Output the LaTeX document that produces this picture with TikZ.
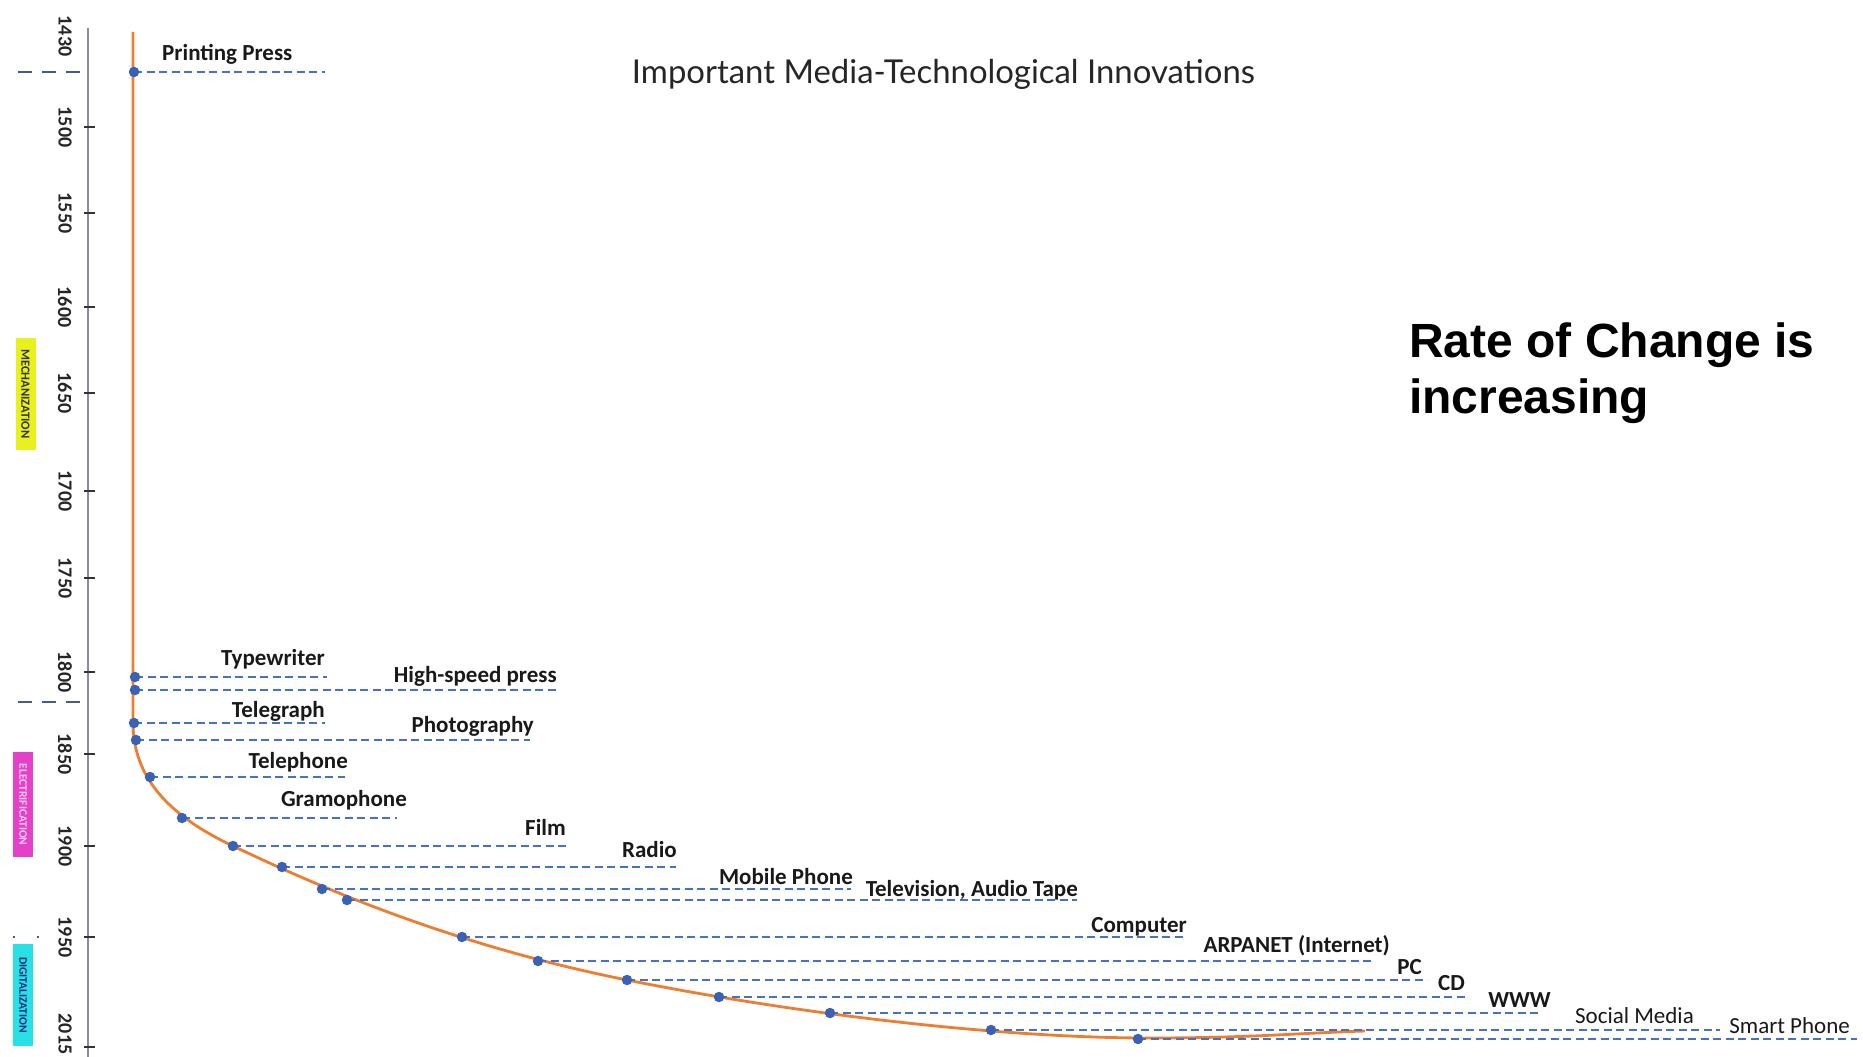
\documentclass[tikz,border=0pt]{standalone}
\usepackage{fontspec}
\usepackage{graphicx}
\setmainfont{Carlito}
\newfontfamily\titlefont{Lato}
\newfontfamily\arialfont{Liberation Sans}
\definecolor{curveor}{RGB}{237,125,49}
\definecolor{dashblue}{RGB}{68,114,196}
\definecolor{dotblue}{RGB}{58,98,180}
\definecolor{sepblue}{RGB}{70,90,140}
\definecolor{axisgray}{RGB}{140,140,155}
\definecolor{mechy}{RGB}{232,240,30}
\definecolor{elecm}{RGB}{228,64,200}
\definecolor{digic}{RGB}{40,225,230}
\begin{document}
\begin{tikzpicture}[x=1pt,y=-1pt,
  lbl/.style={font=\fontsize{23}{27}\selectfont\bfseries, text=black!90, inner sep=0pt},
  lblr/.style={font=\fontsize{23}{27}\selectfont, text=black!90, inner sep=0pt},
  dot/.style={circle, fill=dotblue, inner sep=0pt, minimum size=10.5pt},
  conn/.style={dashblue, line width=2.6pt, dash pattern=on 8pt off 4.5pt},
  yearlbl/.style={rotate=-90, font=\fontsize{20}{24}\selectfont\bfseries, text=black!85, inner sep=0pt},
  yeartick/.style={black!80, line width=1.6pt},
  sepline/.style={sepblue, line width=2.5pt, dash pattern=on 14pt off 10pt},
  catbox/.style={rotate=-90, inner sep=0pt, minimum height=20pt}
]
\fill[white] (0,0) rectangle (1863,1057);
\useasboundingbox (0,0) rectangle (1863,1057);

% time axis
\coordinate (axtop) at (88,28);
\coordinate (axbot) at (88,1057);
\draw[axisgray, line width=1.5pt] (axtop) -- (axbot);
\node[yearlbl] (y1430) at (65,36) {1430};
\foreach \yy/\yr in {127/1500, 213/1550, 307/1600, 393/1650, 491/1700, 578/1750, 672/1800, 754/1850, 846/1900, 937/1950}{
  \coordinate (tl\yr) at (84,\yy);
  \coordinate (tr\yr) at (95,\yy);
  \draw[yeartick] (tl\yr) -- (tr\yr);
  \node[yearlbl] (y\yr) at (65,\yy) {\yr};
}
\coordinate (tl2015) at (84,1047);
\coordinate (tr2015) at (95,1047);
\draw[yeartick] (tl2015) -- (tr2015);
\node[yearlbl] (y2015) at (65,1034) {2015};

% era separators
\coordinate (s1a) at (18,72);  \coordinate (s1b) at (82,72);
\coordinate (s2a) at (18,702); \coordinate (s2b) at (80,702);
\coordinate (s3a) at (13,937); \coordinate (s3b) at (42,937);
\draw[sepline] (s1a) -- (s1b);
\draw[sepline] (s2a) -- (s2b);
\draw[sepblue, line width=2.5pt, dash pattern=on 2pt off 22pt] (s3a) -- (s3b);

% era labels
\node[catbox, fill=mechy, minimum width=112pt, text=black!80, font=\fontsize{12.5}{14}\selectfont\bfseries] (mech) at (25.5,394) {MECHANIZATION};
\node[catbox, fill=elecm, minimum width=105pt, text={rgb,255:red,255;green,205;blue,240}, font=\fontsize{11.5}{13}\selectfont\bfseries] (elec) at (23,804.5) {ELECTRIFICATION};
\node[catbox, fill=digic, minimum width=102pt, text={rgb,255:red,30;green,40;blue,120}, font=\fontsize{11.5}{13}\selectfont\bfseries] (digi) at (23,995) {DIGITALIZATION};

% growth curve
\draw[curveor, line width=2.8pt] (133,32) -- (133,725)
  .. controls (134,775) and (165,814) .. (233,846)
  .. controls (313,884) and (447,944) .. (627,980)
  .. controls (797,1014) and (1000,1038) .. (1150,1038)
  .. controls (1250,1038) and (1300,1033) .. (1365,1031);

% innovation points
\coordinate (pPP) at (134,72);   \coordinate (ePP) at (325,72);
\coordinate (pTW) at (135,677);  \coordinate (eTW) at (327,677);
\coordinate (pHS) at (135,690);  \coordinate (eHS) at (559,690);
\coordinate (pTG) at (134,723);  \coordinate (eTG) at (325,723);
\coordinate (pPH) at (136,740);  \coordinate (ePH) at (530,740);
\coordinate (pTP) at (150,777);  \coordinate (eTP) at (345,777);
\coordinate (pGR) at (182,818);  \coordinate (eGR) at (397,818);
\coordinate (pFI) at (233,846);  \coordinate (eFI) at (568,846);
\coordinate (pRA) at (282,867);  \coordinate (eRA) at (676,867);
\coordinate (pMP) at (322,889);  \coordinate (eMP) at (851,889);
\coordinate (pTV) at (347,900);  \coordinate (eTV) at (1077,900);
\coordinate (pCO) at (462,937);  \coordinate (eCO) at (1185,937);
\coordinate (pAR) at (538,961);  \coordinate (eAR) at (1375,961);
\coordinate (pPC) at (627,980);  \coordinate (ePC) at (1427,980);
\coordinate (pCD) at (719,997);  \coordinate (eCD) at (1466,997);
\coordinate (pWW) at (830,1013); \coordinate (eWW) at (1541,1013);
\coordinate (pSM) at (991,1030); \coordinate (eSM) at (1720,1030);
\coordinate (pSP) at (1138,1039);\coordinate (eSP) at (1857,1039);

\foreach \n in {PP,TW,HS,TG,PH,TP,GR,FI,RA,MP,TV,CO,AR,PC,CD,WW,SM,SP}{
  \draw[conn] (p\n) -- (e\n);
  \node[dot] (d\n) at (p\n) {};
}

% labels
\node[lbl, anchor=base west] (lPP) at (162,61) {Printing Press};
\node[lbl, anchor=base east] (lTW) at (325,665) {Typewriter};
\node[lbl, anchor=base east] (lHS) at (557,682) {High-speed press};
\node[lbl, anchor=base east] (lTG) at (325,717) {Telegraph};
\node[lbl, anchor=base east] (lPH) at (534,732) {Photography};
\node[lbl, anchor=base east] (lTP) at (348,768) {Telephone};
\node[lbl, anchor=base east] (lGR) at (407,806) {Gramophone};
\node[lbl, anchor=base east] (lFI) at (566,835) {Film};
\node[lbl, anchor=base east] (lRA) at (677,857) {Radio};
\node[lbl, anchor=base east] (lMP) at (853,884) {Mobile Phone};
\node[lbl, anchor=base east] (lTV) at (1078,896) {Television, Audio Tape};
\node[lbl, anchor=base east] (lCO) at (1187,932) {Computer};
\node[lbl, anchor=base east] (lAR) at (1390,952) {ARPANET (Internet)};
\node[lbl, anchor=base east] (lPC) at (1422,974) {PC};
\node[lbl, anchor=base east] (lCD) at (1465,990) {CD};
\node[lbl, anchor=base east] (lWW) at (1551,1007) {WWW};
\node[lblr, anchor=base east] (lSM) at (1694,1023) {Social Media};
\node[lblr, anchor=base east] (lSP) at (1850,1033) {Smart Phone};

% titles
\node[anchor=base, inner sep=0pt, text=black!85] (title) at (943.5,83)
  {\resizebox{623pt}{!}{\titlefont\fontsize{30}{36}\selectfont Important Media-Technological Innovations}};
\node[anchor=base west, inner sep=0pt, font=\arialfont\fontsize{48}{55}\selectfont\bfseries] (rate1) at (1409,357) {Rate of Change is};
\node[anchor=base west, inner sep=0pt, font=\arialfont\fontsize{48}{55}\selectfont\bfseries] (rate2) at (1409,413) {increasing};
\end{tikzpicture}
\end{document}
